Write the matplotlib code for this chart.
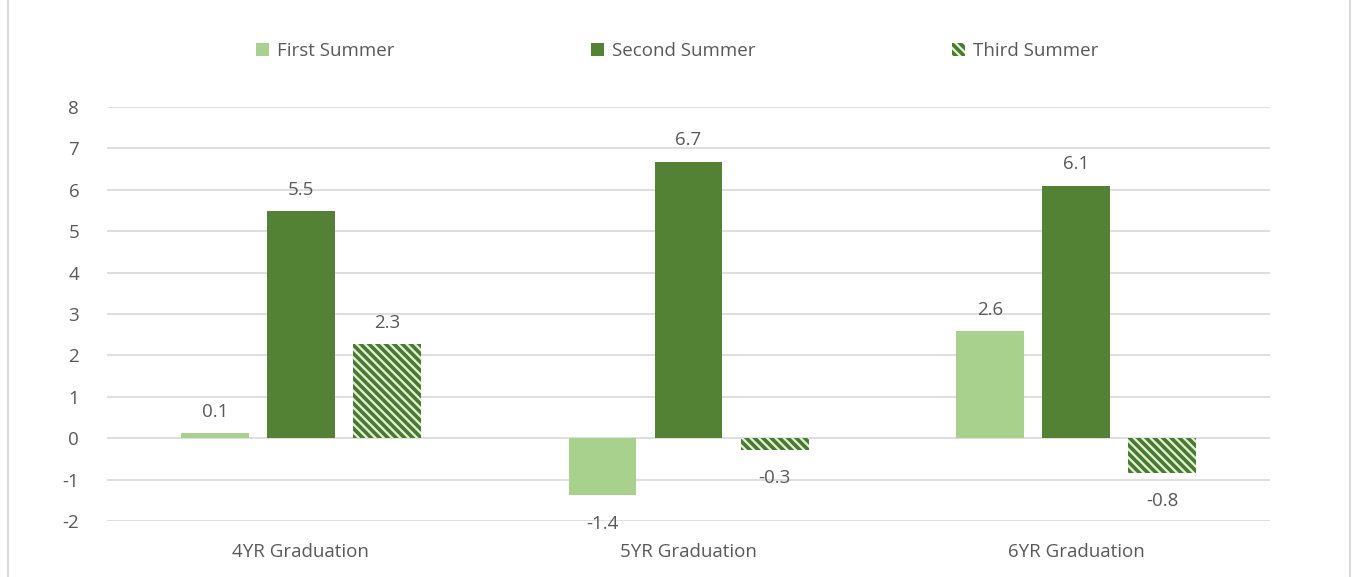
import matplotlib
matplotlib.use("Agg")
import matplotlib.pyplot as plt
import numpy as np
from matplotlib.patches import Rectangle

categories = ["4YR Graduation", "5YR Graduation", "6YR Graduation"]
series_names = ["First Summer", "Second Summer", "Third Summer"]
first_summer = [0.12, -1.38, 2.59]
second_summer = [5.48, 6.68, 6.1]
third_summer = [2.27, -0.28, -0.83]
y_ticks = [-2, -1, 0, 1, 2, 3, 4, 5, 6, 7, 8]

plt.rcParams['font.family'] = ['Open Sans', 'DejaVu Sans']
plt.rcParams['hatch.linewidth'] = 2.6
plt.rcParams['hatch.color'] = '#4a7a2e'
TXT = '#595959'
GRID = '#d9d9d9'

fig = plt.figure(figsize=(13.54, 5.77), dpi=100)
ax = fig.add_axes([0.079, 0.097, 0.859, 0.7174])

x = np.arange(len(categories))
w = 0.175
step = 0.222
styles = [
    dict(color='#a9d18e'),
    dict(color='#548235'),
    dict(facecolor='#e2f0d9', edgecolor='#4a7a2e', hatch='\\\\\\\\', linewidth=0),
]
all_series = [first_summer, second_summer, third_summer]
for i, (vals, name, st) in enumerate(zip(all_series, series_names, styles)):
    bars = ax.bar(x + (i - 1) * step, vals, w, label=name, zorder=3, **st)
    for b, v in zip(bars, vals):
        cx = b.get_x() + b.get_width() / 2
        if v >= 0:
            ax.annotate(f"{v:.1f}", (cx, v), xytext=(0, 9), textcoords='offset points',
                        ha='center', va='bottom', fontsize=13.5, color=TXT)
        else:
            ax.annotate(f"{v:.1f}", (cx, v), xytext=(0, -14), textcoords='offset points',
                        ha='center', va='top', fontsize=13.5, color=TXT)

ax.set_ylim(-2, 8)
ax.set_xlim(-0.5, 2.5)
ax.set_yticks(y_ticks)
ax.set_yticklabels([str(t) for t in y_ticks])
ax.set_xticks(x)
ax.set_xticklabels(categories)
ax.tick_params(axis='both', length=0, labelsize=13.5, labelcolor=TXT)
ax.tick_params(axis='y', pad=20)
ax.tick_params(axis='x', pad=16)
ax.grid(axis='y', color=GRID, linewidth=1.2, zorder=0)
for s in ax.spines.values():
    s.set_visible(False)

leg = fig.legend(loc='center', bbox_to_anchor=(0.5, 0.912), ncol=3, frameon=False,
                 fontsize=13.5, labelcolor=TXT, handlelength=0.7, handleheight=0.7,
                 handletextpad=0.4, columnspacing=10.5)

fig.patches.append(Rectangle((0.006, -0.01), 0.991, 1.02, transform=fig.transFigure,
                             fill=False, edgecolor=GRID, linewidth=1.5))

fig.savefig("out.png", dpi=100)
